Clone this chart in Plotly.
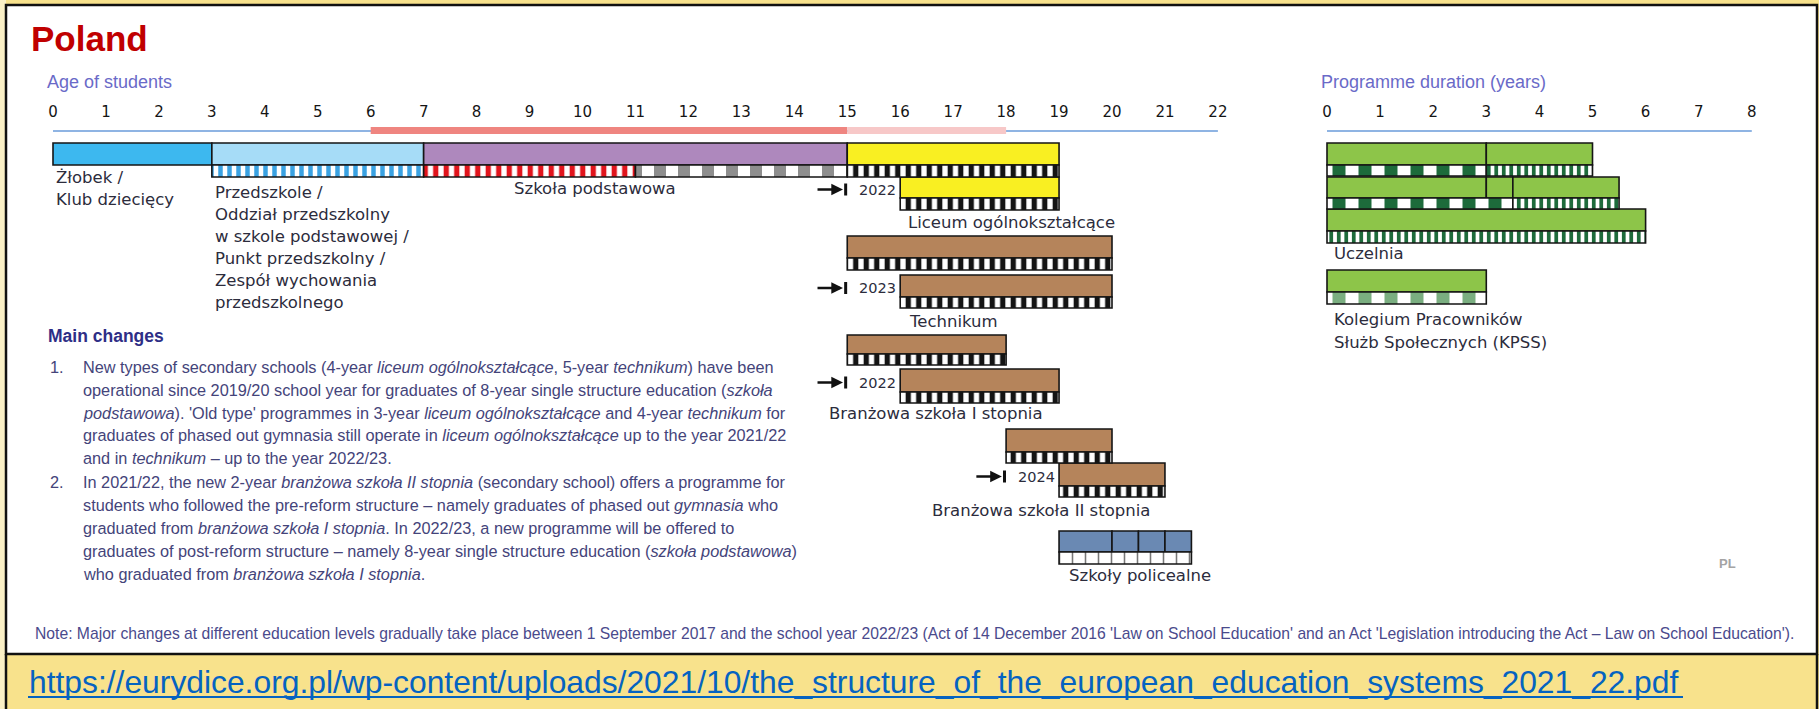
import plotly.graph_objects as go

W, H = 1819, 709

# ---------------- data ----------------
age_ticks = list(range(0, 23))
dur_ticks = list(range(0, 9))

compulsory_full = [6, 15]
compulsory_part = [15, 18]

prog_names = ["Żłobek / Klub dziecięcy", "Przedszkole", "Szkoła podstawowa",
              "Liceum ogólnokształcące (old)", "Liceum ogólnokształcące (new)",
              "Technikum (old)", "Technikum (new)",
              "Branżowa szkoła I stopnia (old)", "Branżowa szkoła I stopnia (new)",
              "Branżowa szkoła II stopnia (old)", "Branżowa szkoła II stopnia (new)"]
prog_start = [0, 3, 7, 15, 16, 15, 16, 15, 16, 18, 19]
prog_end = [3, 7, 15, 19, 19, 20, 20, 18, 19, 20, 21]

polic_seg_start = [19, 20, 20.5, 21]
polic_seg_end = [20, 20.5, 21, 21.5]

# stripe rows under the bars (programme row, start age, end age, kind)
stripe_row = [1, 2, 2, 3, 4, 5, 6, 7, 8, 9, 10, 11]
stripe_start = [3, 7, 11, 15, 16, 15, 16, 15, 16, 18, 19, 19]
stripe_end = [7, 11, 15, 19, 19, 20, 20, 18, 19, 20, 21, 21.5]
stripe_kind = ["blue", "red", "grey", "black", "black", "black", "black",
               "black", "black", "black", "black", "cells"]

new_rows = [4, 6, 8, 10]
new_years = ["2022", "2023", "2022", "2024"]

# tertiary (programme duration, years)
uc_seg_row = [0, 0, 1, 1, 1, 2, 3]
uc_seg_start = [0, 3, 0, 3, 3.5, 0, 0]
uc_seg_end = [3, 5, 3, 3.5, 5.5, 6, 3]
uc_stripe_row = [0, 0, 1, 1, 2, 3]
uc_stripe_start = [0, 3, 0, 3.5, 0, 0]
uc_stripe_end = [3, 5, 3.5, 5.5, 6, 3]
uc_stripe_kind = ["gcoarse", "gfine", "gcoarse", "gfine", "gfine", "glight"]

# ---------------- layout / style ----------------
prog_color = ["#3DB8EF", "#A6DCF7", "#AE88BD", "#F9EF22", "#F9EF22",
              "#B5845B", "#B5845B", "#B5845B", "#B5845B", "#B5845B", "#B5845B", "#6A89B3"]
# (top, split, bottom) in pixels for each row
rows_px = [(143, 165, 177), (143, 165, 177), (143, 165, 177), (143, 165, 177),
           (177, 198, 210), (236, 258, 270), (275, 297, 308), (335, 354, 365),
           (369, 392, 403), (429, 452, 463), (463, 486, 497), (531, 552, 564)]
uc_rows_px = [(143, 165, 176), (177, 198, 209), (209, 231, 243), (270, 292, 304)]

kinds = {
    "blue": ("#3AA2E2", 9, 0.5),
    "red": ("#E1141C", 10.5, 0.5),
    "grey": ("#8E8E8E", 24, 0.5),
    "black": ("#141414", 10.5, 0.5),
    "cells": ("#777777", 13, 0.12),
    "gcoarse": ("#1D6B3B", 26, 0.5),
    "gfine": ("#1D6B3B", 7.5, 0.5),
    "glight": ("#7AAE80", 26, 0.5),
}

AGE0, AGEPX = 53, 52.95
DUR0, DURPX = 1327, 53.1
EDGE = "#151515"
LBL = "#2C2C3C"
LBLFONT = "DejaVu Sans"
NARROW = "Liberation Sans Narrow, Arial Narrow, Liberation Sans"

fig = go.Figure()

# axis lines + compulsory education bands
fig.add_trace(go.Scatter(x=[age_ticks[0], age_ticks[-1]], y=[131, 131], mode="lines",
                         line=dict(color="#8FB4E3", width=2), hoverinfo="skip", showlegend=False))
fig.add_trace(go.Scatter(x=compulsory_full, y=[130.5, 130.5], mode="lines",
                         line=dict(color="#EF8580", width=7), hoverinfo="skip", showlegend=False))
fig.add_trace(go.Scatter(x=compulsory_part, y=[130.5, 130.5], mode="lines",
                         line=dict(color="#F7C8C8", width=7), hoverinfo="skip", showlegend=False))
fig.add_trace(go.Scatter(x=[dur_ticks[0], dur_ticks[-1]], y=[131, 131], mode="lines", xaxis="x2",
                         line=dict(color="#8FB4E3", width=2), hoverinfo="skip", showlegend=False))


def add_bar(xa, start, end, top, bot, color, pattern=None):
    marker = dict(color=color, line=dict(color=EDGE, width=1.6))
    if pattern is not None:
        fg, size, sol = pattern
        marker["pattern"] = dict(shape="|", fgcolor=fg, bgcolor="white", size=size,
                                 solidity=sol, fillmode="overlay", fgopacity=1)
    fig.add_trace(go.Bar(x=[end - start], base=[start], y=[(top + bot) / 2], width=[bot - top],
                         orientation="h", marker=marker, xaxis=xa, yaxis="y",
                         hoverinfo="skip", showlegend=False))


# coloured programme bars
for i in range(len(prog_names)):
    t, m, b = rows_px[i]
    add_bar("x", prog_start[i], prog_end[i], t, m, prog_color[i])
for s, e in zip(polic_seg_start, polic_seg_end):
    t, m, b = rows_px[11]
    add_bar("x", s, e, t, m, prog_color[11])
# stripes
for r, s, e, k in zip(stripe_row, stripe_start, stripe_end, stripe_kind):
    t, m, b = rows_px[r]
    add_bar("x", s, e, m, b, "white", kinds[k])
# tertiary
for r, s, e in zip(uc_seg_row, uc_seg_start, uc_seg_end):
    t, m, b = uc_rows_px[r]
    add_bar("x2", s, e, t, m, "#8DC549")
for r, s, e, k in zip(uc_stripe_row, uc_stripe_start, uc_stripe_end, uc_stripe_kind):
    t, m, b = uc_rows_px[r]
    add_bar("x2", s, e, m, b, "white", kinds[k])

# ---------------- annotations ----------------
ann = []
shapes = []


def txt(x, y, s, size=16.5, color=LBL, family=LBLFONT, xref="x", yref="y", anchor="left"):
    ann.append(dict(x=x, y=y, xref=xref, yref=yref, text=s, showarrow=False,
                    xanchor=anchor, yanchor="middle", font=dict(size=size, color=color, family=family)))


def ax(px):
    return (px - AGE0) / AGEPX


def dx(px):
    return (px - DUR0) / DURPX


txt(29 / W, 38, "<b>Poland</b>", size=35, color="#C00000", family="Liberation Sans", xref="paper")
txt(45 / W, 82, "Age of students", size=18, color="#6A6AC8", family="Liberation Sans", xref="paper")
txt(1319 / W, 82, "Programme duration (years)", size=18, color="#6A6AC8",
    family="Liberation Sans", xref="paper")

# programme labels
txt(ax(54), 177, "Żłobek /")
txt(ax(54), 199, "Klub dziecięcy")
for k, line in enumerate(["Przedszkole /", "Oddział przedszkolny", "w szkole podstawowej /",
                          "Punkt przedszkolny /", "Zespół wychowania", "przedszkolnego"]):
    txt(ax(213), 192 + 22 * k, line)
txt(ax(512), 188, "Szkoła podstawowa")
txt(ax(906), 222, "Liceum ogólnokształcące")
txt(ax(907), 321, "Technikum")
txt(ax(827), 413, "Branżowa szkoła I stopnia")
txt(ax(930), 510, "Branżowa szkoła II stopnia")
txt(ax(1067), 575, "Szkoły policealne")
txt(dx(1332), 253, "Uczelnia", xref="x2")
txt(dx(1332), 319, "Kolegium Pracowników", xref="x2")
txt(dx(1332), 342, "Służb Społecznych (KPSS)", xref="x2")

# arrows for new-structure programmes
for r, yr in zip(new_rows, new_years):
    t, m, b = rows_px[r]
    cy = (t + m) / 2 + 2
    st = prog_start[r] - 1.05
    ann.append(dict(x=st - 0.03, y=cy, xref="x", yref="y", ax=-27, ay=0, text="",
                    showarrow=True, arrowhead=2, arrowsize=0.9, arrowwidth=2.6, arrowcolor="#111"))
    shapes.append(dict(type="line", xref="x", yref="y", x0=st + 0.02, x1=st + 0.02, y0=cy - 6,
                       y1=cy + 6, line=dict(color="#111", width=3)))
    txt(st + 0.23, cy, yr, size=14.5)

# main changes
MC = "#44447A"
txt(46 / W, 336, "<b>Main changes</b>", size=17.5, color="#2E2E86", family=NARROW, xref="paper")
item1 = ["New types of secondary schools (4-year <i>liceum ogólnokształcące</i>, 5-year <i>technikum</i>) have been",
         "operational since 2019/20 school year for graduates of 8-year single structure education (<i>szkoła</i>",
         "<i>podstawowa</i>). 'Old type' programmes in 3-year <i>liceum ogólnokształcące</i> and 4-year <i>technikum</i> for",
         "graduates of phased out gymnasia still operate in <i>liceum ogólnokształcące</i> up to the year 2021/22",
         "and in <i>technikum</i> – up to the year 2022/23."]
item2 = ["In 2021/22, the new 2-year <i>branżowa szkoła II stopnia</i> (secondary school) offers a programme for",
         "students who followed the pre-reform structure – namely graduates of phased out <i>gymnasia</i> who",
         "graduated from <i>branżowa szkoła I stopnia</i>. In 2022/23, a new programme will be offered to",
         "graduates of post-reform structure – namely 8-year single structure education (<i>szkoła podstawowa</i>)",
         "who graduated from <i>branżowa szkoła I stopnia</i>."]
txt(48 / W, 367, "1.", size=16.3, color=MC, family=NARROW, xref="paper")
for k, line in enumerate(item1):
    txt(81 / W, 367 + 22.8 * k, line, size=16.3, color=MC, family=NARROW, xref="paper")
txt(48 / W, 482, "2.", size=16.3, color=MC, family=NARROW, xref="paper")
for k, line in enumerate(item2):
    txt(81 / W, 482 + 23 * k, line, size=16.3, color=MC, family=NARROW, xref="paper")

txt(1727 / W, 563, "<b>PL</b>", size=13, color="#A4A4A4", family="Liberation Sans", xref="paper",
    anchor="center")

txt(33 / W, 633, "Note: Major changes at different education levels gradually take place between 1 September 2017 "
    "and the school year 2022/23 (Act of 14 December 2016 'Law on School Education' and an Act "
    "'Legislation introducing the Act – Law on School Education').",
    size=15.7, color="#4A4A8C", family=NARROW, xref="paper")

txt(27 / W, 682, "https://eurydice.org.pl/wp-content/uploads/2021/10/the_structure_of_the_european_education_systems_2021_22.pdf",
    size=31.8, color="#0563C1", family="Liberation Sans", xref="paper")

# frame and page decorations
shapes = [
    dict(type="rect", xref="paper", yref="y", x0=0, x1=6 / W, y0=0, y1=709,
         fillcolor="#FAF0C6", line=dict(width=0), layer="below"),
    dict(type="rect", xref="paper", yref="y", x0=6 / W, x1=1817 / W, y0=5, y1=654,
         fillcolor="white", line=dict(color="#111", width=2.5), layer="below"),
    dict(type="line", xref="paper", yref="y", x0=6 / W, x1=6 / W, y0=654, y1=709,
         line=dict(color="#111", width=2.5), layer="below"),
    dict(type="line", xref="paper", yref="y", x0=1817 / W, x1=1817 / W, y0=654, y1=709,
         line=dict(color="#111", width=2.5), layer="below"),
    dict(type="line", xref="paper", yref="y", x0=28 / W, x1=1683 / W, y0=697, y1=697,
         line=dict(color="#0563C1", width=2)),
] + shapes

tickfont = dict(family=LBLFONT, size=15, color="#151515")
fig.update_layout(
    width=W, height=H, autosize=False,
    margin=dict(l=0, r=0, t=0, b=0),
    paper_bgcolor="#F8E28C", plot_bgcolor="rgba(0,0,0,0)",
    barmode="overlay", showlegend=False,
    xaxis=dict(domain=[0, 1], range=[ax(0), ax(W)], side="top", anchor="free",
               position=1 - 120 / H, tickvals=age_ticks, ticks="", showgrid=False,
               zeroline=False, showline=False, tickfont=tickfont, fixedrange=True),
    xaxis2=dict(overlaying="x", range=[dx(0), dx(W)], side="top", anchor="free",
                position=1 - 120 / H, tickvals=dur_ticks, ticks="", showgrid=False,
                zeroline=False, showline=False, tickfont=tickfont, fixedrange=True),
    yaxis=dict(domain=[0, 1], range=[H, 0], visible=False, fixedrange=True),
    annotations=ann, shapes=shapes,
)

fig.write_html("out.html", config={"displayModeBar": False},
               post_script="document.body.style.margin='0';document.body.style.overflow='hidden';")
